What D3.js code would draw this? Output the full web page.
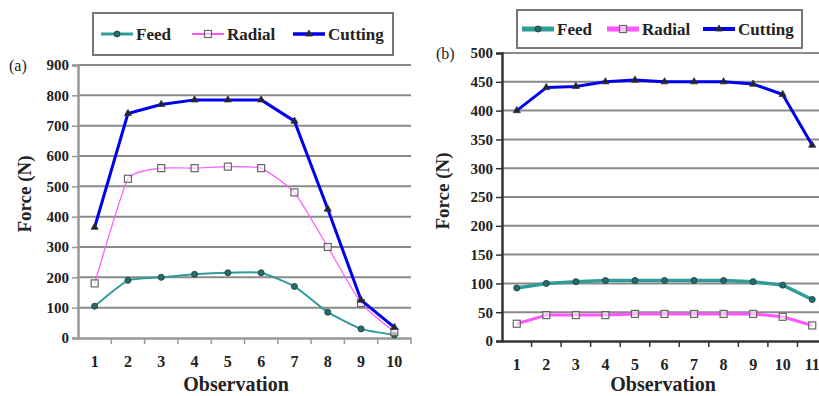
<!DOCTYPE html>
<html>
<head>
<meta charset="utf-8">
<script src="https://cdn.jsdelivr.net/npm/d3@7"></script>
<style>
  body { margin: 0; background: #fff; }
  svg { display: block; }
  svg text { font-family: "Liberation Serif", "Times New Roman", serif; font-weight: bold; fill: #222; }
</style>
</head>
<body>
<div id="chart"></div>
<script>
// Panel (a)
const obsA = [1, 2, 3, 4, 5, 6, 7, 8, 9, 10];
const feedA = [105, 190, 200, 210, 215, 215, 170, 85, 30, 10];
const radialA = [180, 525, 560, 560, 565, 560, 480, 300, 115, 20];
const cuttingA = [365, 740, 770, 785, 785, 785, 715, 425, 125, 35];
const ticksA = [0, 100, 200, 300, 400, 500, 600, 700, 800, 900];

// Panel (b)
const obsB = [1, 2, 3, 4, 5, 6, 7, 8, 9, 10, 11];
const feedB = [92, 100, 103, 105, 105, 105, 105, 105, 103, 97, 72];
const radialB = [30, 45, 45, 45, 47, 47, 47, 47, 47, 42, 27];
const cuttingB = [400, 440, 442, 450, 453, 450, 450, 450, 446, 428, 340];
const ticksB = [0, 50, 100, 150, 200, 250, 300, 350, 400, 450, 500];

const W = 819, H = 396;
const serif = '"Liberation Serif", "Times New Roman", serif';
const svg = d3.select('#chart').append('svg').attr('width', W).attr('height', H);

const colors = { feed: '#2f9c98', radial: '#ff55ff', cutting: '#0000ee' };

function styleTicks(sel, size) {
  sel.selectAll('.tick text')
    .attr('fill', '#222')
    .style('font-family', serif)
    .style('font-weight', 'bold')
    .style('font-size', size + 'px');
}

function drawPanel(p) {
  const x = d3.scaleBand().domain(p.obs).range([p.x0, p.x1]);
  const y = d3.scaleLinear().domain([0, p.max]).range([p.y0, p.y1]);
  const g = svg.append('g');

  // gridlines
  g.append('g').selectAll('line').data(p.ticks.filter(t => t > 0)).join('line')
    .attr('x1', p.x0).attr('x2', Math.min(p.x1, W))
    .attr('y1', d => y(d)).attr('y2', d => y(d))
    .attr('stroke', '#8a8a8a').attr('stroke-width', 2);

  // y axis
  const ya = g.append('g').attr('transform', `translate(${p.x0},0)`)
    .call(d3.axisLeft(y).tickValues(p.ticks).tickSize(6).tickPadding(3));
  ya.select('.domain').attr('stroke', p.axisColor).attr('stroke-width', 2.5);
  ya.selectAll('.tick line').attr('stroke', p.axisColor).attr('stroke-width', 1.5);
  styleTicks(ya, 15);

  // x axis
  const xa = g.append('g').attr('transform', `translate(0,${p.y0})`)
    .call(d3.axisBottom(x).tickSize(0).tickPadding(18));
  xa.select('.domain').attr('stroke', p.axisColor).attr('stroke-width', 2.5);
  styleTicks(xa, 16);
  // ticks at band boundaries
  g.append('g').selectAll('line').data(p.obs).join('line')
    .attr('x1', d => x(d) + x.bandwidth()).attr('x2', d => x(d) + x.bandwidth())
    .attr('y1', p.y0).attr('y2', p.y0 + 6)
    .attr('stroke', p.axisColor).attr('stroke-width', 1.5);

  const cx = d => x(d) + x.bandwidth() / 2;
  const smooth = p.smooth ? d3.curveCardinal.tension(0.55) : d3.curveLinear;

  const series = [
    { key: 'feed', vals: p.feed, w: p.feedW, curve: smooth },
    { key: 'radial', vals: p.radial, w: p.radialW, curve: smooth },
    { key: 'cutting', vals: p.cutting, w: 3, curve: d3.curveLinear }
  ];

  series.forEach(s => {
    const pts = p.obs.map((o, i) => [cx(o), y(s.vals[i])]);
    g.append('path').datum(pts)
      .attr('d', d3.line().curve(s.curve))
      .attr('fill', 'none').attr('stroke', colors[s.key]).attr('stroke-width', s.w)
      .attr('stroke-linejoin', 'round');
    drawMarkers(g, s.key, pts);
  });

  // labels
  svg.append('text').attr('x', p.tagX).attr('y', p.tagY).style('font-size', '16px')
    .style('font-weight', 'normal').text(p.tag);
  svg.append('text')
    .attr('transform', `translate(${p.titleX},${p.titleY}) rotate(-90)`)
    .attr('text-anchor', 'middle').style('font-size', '19px').text('Force (N)');
  svg.append('text').attr('x', p.obsX).attr('y', 391).attr('text-anchor', 'middle')
    .style('font-size', '20px').text('Observation');

  // legend
  const L = p.legend;
  svg.append('rect').attr('x', L.x).attr('y', L.y).attr('width', L.w).attr('height', L.h)
    .attr('fill', '#fff').attr('stroke', '#777').attr('stroke-width', 2);
  const names = { feed: 'Feed', radial: 'Radial', cutting: 'Cutting' };
  ['feed', 'radial', 'cutting'].forEach((k, i) => {
    const lx = L.items[i];
    const ly = L.y + L.h / 2;
    svg.append('line').attr('x1', lx).attr('x2', lx + 32).attr('y1', ly).attr('y2', ly)
      .attr('stroke', colors[k]).attr('stroke-width', L.lineW[i]);
    drawMarkers(svg, k, [[lx + 16, ly]]);
    svg.append('text').attr('x', lx + 35).attr('y', ly + 6).style('font-size', '17px')
      .text(names[k]);
  });
}

function drawMarkers(g, key, pts) {
  if (key === 'feed') {
    g.append('g').selectAll('circle').data(pts).join('circle')
      .attr('cx', d => d[0]).attr('cy', d => d[1]).attr('r', 3)
      .attr('fill', '#2a6b68').attr('stroke', '#1d4a48').attr('stroke-width', 1);
  } else if (key === 'radial') {
    g.append('g').selectAll('rect').data(pts).join('rect')
      .attr('x', d => d[0] - 3.5).attr('y', d => d[1] - 3.5).attr('width', 7).attr('height', 7)
      .attr('fill', '#fff').attr('fill-opacity', 0.6).attr('stroke', '#666').attr('stroke-width', 1.2);
  } else {
    g.append('g').selectAll('path').data(pts).join('path')
      .attr('d', d3.symbol(d3.symbolTriangle, 22))
      .attr('transform', d => `translate(${d[0]},${d[1]})`)
      .attr('fill', '#223').attr('stroke', '#334').attr('stroke-width', 0.8);
  }
}

drawPanel({
  obs: obsA, feed: feedA, radial: radialA, cutting: cuttingA, ticks: ticksA, max: 900,
  x0: 78, x1: 411, y0: 338, y1: 65, axisColor: '#999', smooth: true,
  feedW: 2, radialW: 1.2,
  tag: '(a)', tagX: 9, tagY: 71, titleX: 31, titleY: 194, obsX: 236,
  legend: { x: 93, y: 13, w: 300, h: 42, items: [101, 192, 293], lineW: [3, 2, 3.5] }
});

drawPanel({
  obs: obsB, feed: feedB, radial: radialB, cutting: cuttingB, ticks: ticksB, max: 500,
  x0: 502, x1: 827, y0: 341, y1: 53, axisColor: '#333', smooth: false,
  feedW: 3.5, radialW: 3,
  tag: '(b)', tagX: 436, tagY: 59, titleX: 449, titleY: 191, obsX: 663,
  legend: { x: 517, y: 10, w: 285, h: 38, items: [522, 607, 703], lineW: [5, 5, 4] }
});
</script>
</body>
</html>
